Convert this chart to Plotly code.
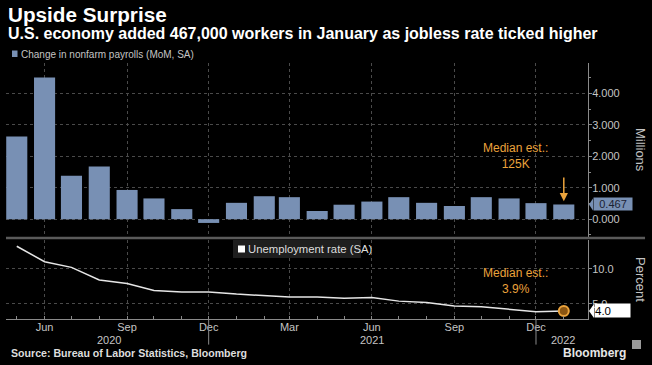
import plotly.graph_objects as go

months = ["2020-05-01", "2020-06-01", "2020-07-01", "2020-08-01", "2020-09-01", "2020-10-01",
          "2020-11-01", "2020-12-01", "2021-01-01", "2021-02-01", "2021-03-01", "2021-04-01",
          "2021-05-01", "2021-06-01", "2021-07-01", "2021-08-01", "2021-09-01", "2021-10-01",
          "2021-11-01", "2021-12-01", "2022-01-01"]
payrolls = [2.63, 4.51, 1.38, 1.68, 0.93, 0.66, 0.32, -0.12, 0.52, 0.73, 0.70, 0.26,
            0.46, 0.56, 0.70, 0.52, 0.42, 0.70, 0.66, 0.51, 0.467]
unemployment = [13.2, 11.0, 10.2, 8.4, 7.9, 6.9, 6.7, 6.7, 6.4, 6.2, 6.0, 6.0,
                5.8, 5.9, 5.4, 5.2, 4.7, 4.6, 4.2, 3.9, 4.0]
tick_dates = ["2020-06-01", "2020-09-01", "2020-12-01", "2021-03-01", "2021-06-01", "2021-09-01", "2021-12-01"]
tick_labels = ["Jun", "Sep", "Dec", "Mar", "Jun", "Sep", "Dec"]
year_labels = ["2020", "2021", "2022"]
year_pos = ["2020-08-12", "2021-06-01", "2021-12-31"]
year_breaks = ["2020-12-01", "2021-12-01"]

BAR = "#7890b4"
ORANGE = "#eba33c"
TXT = "#c4c4c4"
GRID = "#4a4a4a"
FONT = "Liberation Sans"

fig = go.Figure()
fig.add_trace(go.Bar(x=months, y=payrolls, marker=dict(color=BAR, line=dict(width=0)),
                     xaxis="x", yaxis="y", hoverinfo="skip"))
fig.add_trace(go.Scatter(x=months, y=unemployment, mode="lines",
                         line=dict(color="#e6e6e6", width=1.5), xaxis="x", yaxis="y2", hoverinfo="skip"))
fig.add_trace(go.Scatter(x=months[-1:], y=unemployment[-1:], mode="markers",
                         marker=dict(size=10, color="#8a5512", line=dict(color=ORANGE, width=2)),
                         xaxis="x", yaxis="y2", hoverinfo="skip"))

fig.update_layout(
    width=652, height=365,
    paper_bgcolor="black", plot_bgcolor="black",
    margin=dict(l=6, r=64, t=63, b=46),
    showlegend=False, bargap=0.16,
    font=dict(family=FONT, color=TXT),
    xaxis=dict(type="date", anchor="y2", range=["2020-04-19", "2022-01-28"],
               tickmode="array", tickvals=tick_dates, ticktext=tick_labels,
               tickfont=dict(size=11, color=TXT, family=FONT),
               showgrid=True, gridcolor=GRID, griddash="dot", gridwidth=1,
               showline=True, linecolor="#8a8a8a", linewidth=1,
               ticks="inside", ticklen=3, tickcolor="#8a8a8a", ticklabelstandoff=-2,
               minor=dict(tickmode="linear", tick0="2020-05-01", dtick="M1", ticks="inside",
                          ticklen=3, tickcolor="#8a8a8a", showgrid=False),
               zeroline=False),
    yaxis=dict(domain=[0.32, 1.0], side="right", range=[-0.57, 4.97],
               tickmode="array", tickvals=[0, 1, 2, 3, 4], tickformat=".3f",
               tickfont=dict(size=11, color=TXT, family=FONT),
               showgrid=True, gridcolor=GRID, griddash="dot", gridwidth=1,
               showline=True, linecolor="#8a8a8a", linewidth=1,
               ticks="outside", ticklen=3, tickcolor="#8a8a8a", ticklabelstandoff=-2,
               minor=dict(tickmode="linear", tick0=0.5, dtick=1, ticks="outside", ticklen=2,
                          tickcolor="#8a8a8a", showgrid=False),
               zeroline=False),
    yaxis2=dict(domain=[0.0, 0.309], side="right", range=[2.86, 14.1],
                tickmode="array", tickvals=[5, 10], tickformat=".1f",
                tickfont=dict(size=11, color=TXT, family=FONT),
                showgrid=True, gridcolor=GRID, griddash="dot", gridwidth=1,
                showline=True, linecolor="#8a8a8a", linewidth=1,
                ticks="outside", ticklen=3, tickcolor="#8a8a8a", ticklabelstandoff=-2,
                zeroline=False),
)

shapes = []
# panel separator
shapes.append(dict(type="line", xref="paper", yref="paper", x0=0, x1=1.098, y0=0.316, y1=0.316,
                   line=dict(color="#5a5a5a", width=2.5), layer="above"))
for yb in year_breaks:
    shapes.append(dict(type="line", xref="x", yref="paper", x0=yb, x1=yb, y0=0, y1=-0.1,
                       line=dict(color="#8a8a8a", width=1)))
# legend swatch for bars
shapes.append(dict(type="rect", xref="paper", yref="paper", x0=(12 - 6) / 582, x1=(17.5 - 6) / 582,
                   y0=(319 - 57) / 256, y1=(319 - 50.5) / 256, fillcolor=BAR, line=dict(width=0)))
# unemployment legend box
shapes.append(dict(type="rect", xref="paper", yref="paper", x0=(233 - 6) / 582, x1=(361 - 6) / 582,
                   y0=(319 - 258) / 256, y1=(319 - 240) / 256, fillcolor="#1e1e1e", line=dict(width=0)))
shapes.append(dict(type="rect", xref="paper", yref="paper", x0=(238 - 6) / 582, x1=(245 - 6) / 582,
                   y0=(319 - 252.5) / 256, y1=(319 - 245.5) / 256, fillcolor="white", line=dict(width=0)))
# value label pointers
shapes.append(dict(type="path", xref="paper", yref="y", xsizemode="pixel", ysizemode="pixel",
                   xanchor=1, yanchor=payrolls[-1], path="M 1,0 L 5,6 L 5,-6 Z",
                   fillcolor=BAR, line=dict(width=0)))
shapes.append(dict(type="path", xref="paper", yref="y2", xsizemode="pixel", ysizemode="pixel",
                   xanchor=1, yanchor=unemployment[-1], path="M 1,0 L 6,7 L 6,-7 Z",
                   fillcolor="white", line=dict(width=0)))
# Bloomberg icon
shapes.append(dict(type="rect", xref="paper", yref="paper", x0=(632 - 6) / 582, x1=(641 - 6) / 582,
                   y0=-(349 - 319) / 256 - 0.0, y1=-(340 - 319) / 256, fillcolor="#9a9a9a",
                   line=dict(width=0)))
fig.update_layout(shapes=shapes)

ann = []
ann.append(dict(text="<b>Upside Surprise</b>", xref="paper", yref="paper", x=(6 - 6) / 582,
                y=(319 - 14) / 256, xanchor="left", yanchor="middle", showarrow=False,
                font=dict(size=20.7, color="white", family=FONT)))
ann.append(dict(text="<b>U.S. economy added 467,000 workers in January as jobless rate ticked higher</b>",
                xref="paper", yref="paper", x=(6 - 6) / 582, y=(319 - 33) / 256, xanchor="left",
                yanchor="middle", showarrow=False, font=dict(size=16, color="white", family=FONT)))
ann.append(dict(text="Change in nonfarm payrolls (MoM, SA)", xref="paper", yref="paper",
                x=(18.5 - 6) / 582, y=(319 - 54) / 256, xanchor="left", yanchor="middle",
                showarrow=False, font=dict(size=10, color=TXT, family=FONT)))
ann.append(dict(text="Unemployment rate (SA)", xref="paper", yref="paper",
                x=(246 - 6) / 582, y=(319 - 249) / 256, xanchor="left", yanchor="middle",
                showarrow=False, font=dict(size=11.3, color="#dddddd", family=FONT)))
ann.append(dict(text="Median est.:<br>125K", xref="paper", yref="paper", x=(515 - 6) / 582,
                y=(319 - 155.5) / 256, xanchor="center", yanchor="middle", showarrow=False,
                font=dict(size=12, color=ORANGE, family=FONT)))
ann.append(dict(text="Median est.:<br>3.9%", xref="paper", yref="paper", x=(515 - 6) / 582,
                y=(319 - 280.5) / 256, xanchor="center", yanchor="middle", showarrow=False,
                font=dict(size=12, color=ORANGE, family=FONT)))
ann.append(dict(text="", x=months[-1], y=0.57, xref="x", yref="y", ax=months[-1], ay=1.37,
                axref="x", ayref="y", showarrow=True, arrowhead=2, arrowsize=1.1, arrowwidth=1.5,
                arrowcolor=ORANGE))
ann.append(dict(text="0.467", xref="paper", yref="y", x=1, y=payrolls[-1], xanchor="left",
                yanchor="middle", xshift=5, showarrow=False, bgcolor=BAR, borderpad=0,
                width=38, height=12, font=dict(size=11, color="#1b2233", family=FONT)))
ann.append(dict(text="4.0", xref="paper", yref="y2", x=1, y=unemployment[-1], xanchor="left",
                yanchor="middle", xshift=6, showarrow=False, bgcolor="white", borderpad=0,
                width=35, height=13, align="left", font=dict(size=11.5, color="black", family=FONT)))
ann.append(dict(text="Millions", xref="paper", yref="paper", x=(641 - 6) / 582, y=(319 - 150) / 256,
                xanchor="center", yanchor="middle", textangle=90, showarrow=False,
                font=dict(size=13, color=TXT, family=FONT)))
ann.append(dict(text="Percent", xref="paper", yref="paper", x=(641 - 6) / 582, y=(319 - 280) / 256,
                xanchor="center", yanchor="middle", textangle=90, showarrow=False,
                font=dict(size=13, color=TXT, family=FONT)))
for lab, pos in zip(year_labels, year_pos):
    ann.append(dict(text=lab, xref="x", yref="paper", x=pos, y=-(339.5 - 319) / 256,
                    xanchor="center", yanchor="middle", showarrow=False,
                    font=dict(size=11, color=TXT, family=FONT)))
ann.append(dict(text="<b>Source: Bureau of Labor Statistics, Bloomberg</b>", xref="paper", yref="paper",
                x=(9 - 6) / 582, y=-(353 - 319) / 256, xanchor="left", yanchor="middle",
                showarrow=False, font=dict(size=10.6, color="#dddddd", family=FONT)))
ann.append(dict(text="<b>Bloomberg</b>", xref="paper", yref="paper", x=(628 - 6) / 582,
                y=-(353 - 319) / 256, xanchor="right", yanchor="middle", showarrow=False,
                font=dict(size=12, color="#e6e6e6", family=FONT)))
fig.update_layout(annotations=ann)

fig.write_html("out.html", config={"displayModeBar": False},
               post_script="document.body.style.margin='0';document.body.style.overflow='hidden';")
